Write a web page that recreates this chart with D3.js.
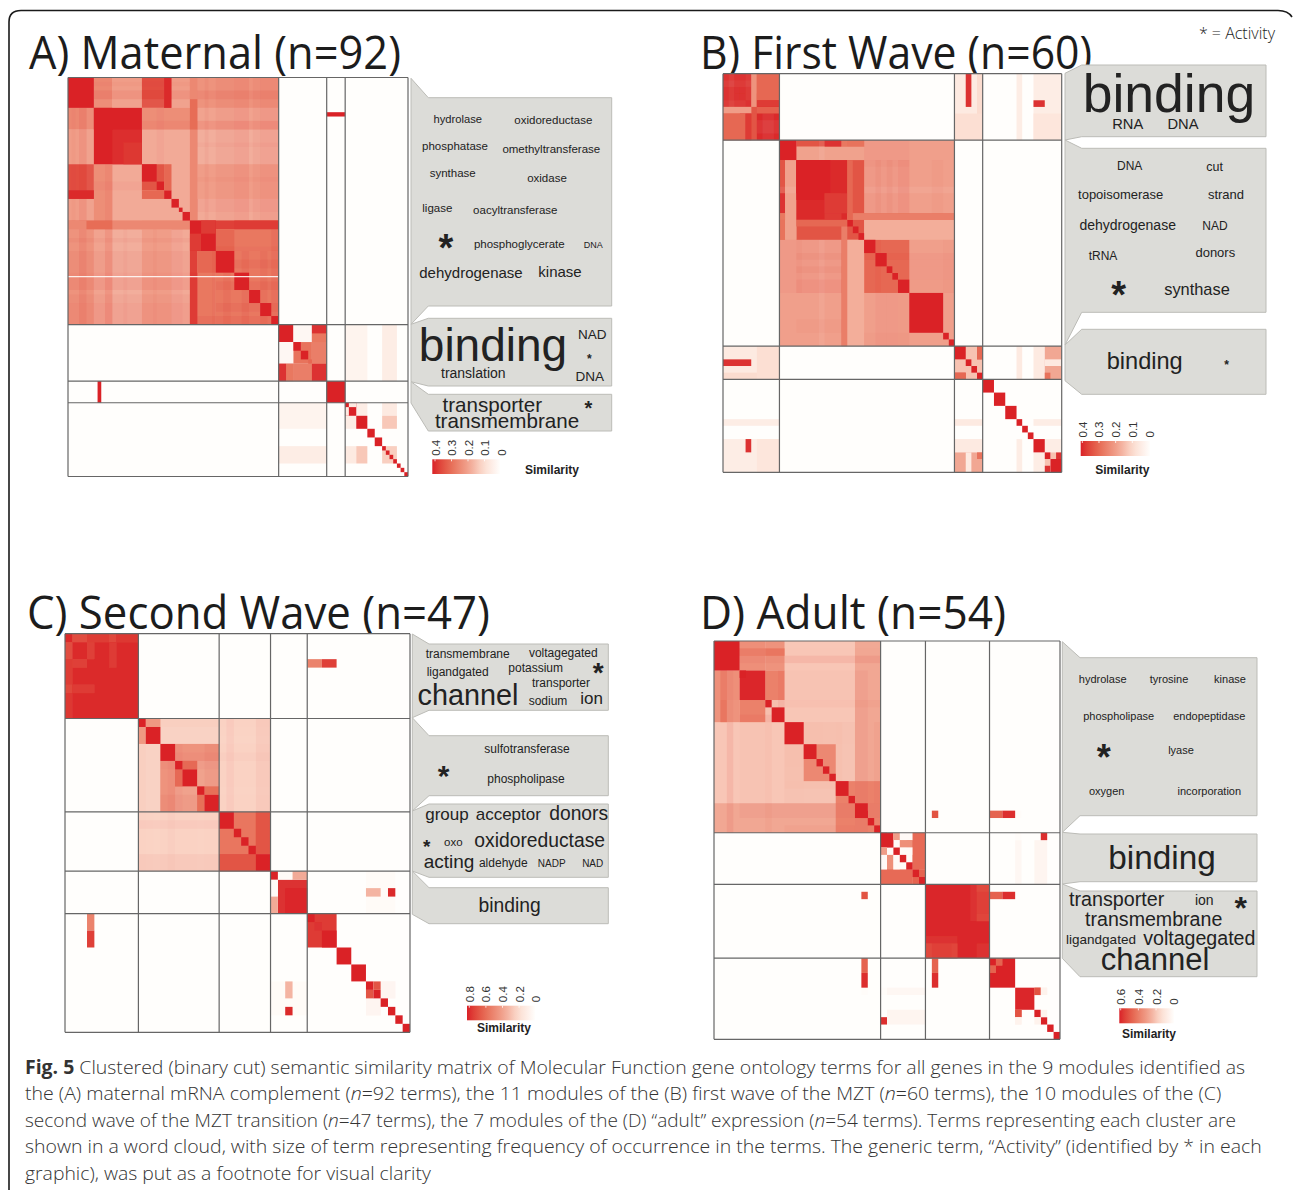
<!DOCTYPE html>
<html><head><meta charset="utf-8">
<script src="https://cdn.jsdelivr.net/npm/d3@7"></script>
<style>
html,body{margin:0;padding:0;background:#fff}
svg{display:block}
.w{font-family:"Liberation Sans",Arial,sans-serif;fill:#222;text-anchor:middle}
.t{font-family:"Open Sans",sans-serif;fill:#1c1c1c}
.c{font-family:"Open Sans",sans-serif;fill:#333;font-size:19px;font-weight:300}
</style></head><body>
<svg id="fig" width="1293" height="1190"></svg>
<script>
// ---------- similarity blocks in term-index units: [col0,col1,row0,row1,similarity,(1 = no mirror)] ----------
const aBreaks=[57,70,75], aMax=.4, aTicks=[.4,.3,.2,.1,0];
const aBase=[[0,57,0,57,.175],[7,12,0,7,.24],[12,20,0,7,.2],[20,28,0,7,.34],[28,33,0,7,.2],[33,35,0,7,.3],[35,57,0,7,.22],
[20,33,7,12,.23],[33,35,7,12,.33],[35,57,7,12,.2],[33,35,12,20,.24],[33,35,20,33,.26],[35,57,20,28,.2],
[0,33,33,35,.24],[5,12,33,35,.29],[33,57,33,35,.33],[33,35,35,57,.36],[35,40,35,57,.27],[40,57,40,57,.27],
[35,40,40,45,.3],[45,57,33,35,.37],
[57,61,57,61,.4],[61,66,57,61,.02],[66,70,57,61,.38],[61,66,61,66,.28],[66,70,61,66,.26],[57,59,66,70,.38],[59,61,66,70,.27],[61,66,66,70,.26],[66,70,66,70,.38],
[75,81,57,70,.03],[85,89,57,70,.05],[78,81,75,78,.05],[85,89,75,78,.06],[85,89,78,81,.13],[85,89,85,89,.12]];
const aShade=[[0,33,40,45,.02],[0,33,45,49,.035],[0,33,50,52,.02],[0,33,52,57,.035],[0,33,37,38,.02],[3,5,7,33,.03],[5,7,7,33,-.02],[10,12,20,33,.025],[10,12,35,57,.025],
[3,5,35,57,.035],[7,10,35,57,-.025],[12,20,35,57,-.02],[24,26,7,20,.015],[28,31,35,57,.015],[42,44,45,57,.03],[47,49,40,57,.035],[52,54,40,57,.03],[55,57,35,57,.035],[39,40,35,57,.02],[1,2,7,33,.012],[15,16,35,57,.012],[23,24,35,57,.012]];
const aPeak=[[0,7,0,7,.4],[7,20,7,20,.4],[12,20,12,20,.385],[15,20,15,20,.375],[7,12,7,12,.4],[20,26,20,26,.33],[20,24,20,24,.4],[24,26,24,26,.4],[26,28,26,28,.4],[20,26,26,28,.3],[0,7,26,28,.39],
[28,30,28,30,.4],[30,31,30,31,.4],[31,33,31,33,.4],[33,40,33,40,.4],[36,40,33,36,.37],[40,45,40,45,.4],[45,49,45,49,.4],[49,52,49,52,.4],[52,55,52,55,.4],[55,57,55,57,.4],
[0,57,45.8,46.05,0,1],
[61,63,61,63,.4],[63,65,63,65,.4],[65,66,65,66,.3],
[70,75,70,75,.4],[70,75,8,9,.4],
[75,78,75,78,.4],[76,78,75,76,.06],[78,81,78,81,.4],[81,83,81,83,.4],[83,85,83,85,.4],[85,86,85,86,.4],[86,87,86,87,.4],[87,88,87,88,.4],[88,89,88,89,.4],[89,90,89,90,.4],[90,91,90,91,.4],[91,92,91,92,.4]];

const bBreaks=[10,41,46], bMax=.4, bTicks=[.4,.3,.2,.1,0];
const bBase=[[0,10,0,10,.33],[0,5,0,5,.38],[5,6,0,5,.22],[5,6,6,10,.33],[0,5,5,6,.2,1],[6,10,5,6,.31,1],[6,10,6,10,.39],[6,10,0,3,.28],[6,10,3,5,.37],[0,4,6,10,.3],[4,5,6,10,.37],
[10,41,10,41,.195],[13,25,13,25,.33],[25,33,25,33,.3],[13,21,10,11,.33],[21,25,10,11,.27],[13,21,11,13,.2],[18,21,10,11,.38],[21,22,10,41,.27],
[22,25,25,41,.17],[10,11,22,25,.28],[11,13,13,25,.19],[22,41,21,22,.26],
[41,46,0,10,.06],[43,44,0,5,.38],[45,46,0,10,.1],[41,46,6,10,.09],[52,53,0,10,.05],[55,60,0,10,.05],[55,60,6,10,.07],[55,57,4,5,.38],
[41,46,41,46,.14],[45,46,41,43,.33],[41,43,45,46,.3],
[52,53,41,46,.06],[55,57,41,46,.06],[57,60,41,46,.18],[57,60,43,44,.06],[57,58,45,46,.28],
[55,60,52,53,.05],[57,60,55,57,.05],[57,58,58,59,.14]];
const bShade=[[17,18,10,13,-.03],[17,18,25,41,-.025],[27,28,25,41,.015],[29,31,33,41,.015],[31,33,33,41,.012],[13,21,27,28,.02],[13,21,29,30,.02],[13,21,31,33,.025],[13,21,37,39,.012],[28,29,33,41,.015],[25,33,10,21,.015],[39,41,25,33,.01],[25,33,13,14,.012],[1,2,0,5,-.02],[2,4,1,3,.015],[7,9,6,10,-.02],[4,5,0,4,-.015]];
const bPeak=[[10,13,10,13,.4],[13,22,13,22,.39],[13,19,13,18,.4],[18,21,18,22,.37],[22,23,22,23,.4],[23,24,23,24,.4],[24,25,24,25,.4],[22,23,13,22,.3],
[25,27,25,27,.4],[27,29,27,29,.4],[29,30,29,30,.4],[30,31,30,31,.4],[31,33,31,33,.4],[33,39,33,39,.4],[39,40,39,40,.4],[40,41,40,41,.4],
[41,43,41,43,.4],[43,44,43,44,.4],[44,45,44,45,.4],[45,46,45,46,.4],
[46,48,46,48,.4],[48,50,48,50,.4],[50,52,50,52,.4],[52,53,52,53,.4],[53,54,53,54,.4],[54,55,54,55,.4],[55,57,55,57,.4],[57,58,57,58,.4],[58,60,58,60,.4],[59,60,57,58,.38]];

const cBreaks=[10,21,28,33], cMax=.8, cTicks=[.8,.6,.4,.2,0];
const cBase=[[0,10,0,10,.78],[1,7,0,1,.69],[7,10,0,1,.71],[0,1,1,3,.68],[3,4,1,3,.71],[6,7,1,4,.73],[0,3,3,4,.72],[1,4,6,7,.74],[0,1,3,6,.73],[0,1,7,10,.75],
[10,21,10,21,.24],[13,21,13,21,.38],[15,21,13,15,.44],[11,13,10,11,.42],[21,28,10,21,.23],[21,28,21,28,.55],[26,28,21,26,.62],[21,26,26,28,.66],
[16,18,15,16,.58],[18,19,19,21,.56],[15,16,16,18,.58],
[29,33,29,33,.76],[29,31,28,29,.02],[31,33,28,29,.35],[41,45,28,33,.02],[41,43,30,31,.32],[44,45,30,31,.78],[43,45,41,43,.05],[41,43,43,45,.05],[33,35,3,4,.5],[35,37,3,4,.72]];
const cShade=[[22,23,10,21,.03],[26,28,10,21,.04],[21,28,12,13,-.02],[21,28,18,19,-.02],[11,13,13,21,-.06],[14,16,13,21,.03],[19,21,13,21,.04],[21,28,14,15,.015],[11,13,21,28,-.02]];
const cPeak=[[10,11,10,11,.8],[11,13,11,13,.8],[13,15,13,15,.8],[15,16,15,16,.8],[16,18,16,18,.8],[18,19,18,19,.8],[19,21,19,21,.8],
[21,23,21,23,.8],[23,24,23,24,.8],[24,25,24,25,.8],[25,26,25,26,.8],[26,28,26,28,.8],[28,29,28,29,.8],[30,33,30,33,.79],
[33,37,33,37,.74],[33,34,33,34,.8],[34,35,34,35,.76],[35,37,35,37,.8],[37,39,37,39,.8],[39,41,39,41,.8],[41,42,41,42,.8],[42,43,42,43,.8],[42,43,41,42,.66],[43,44,43,44,.8],[44,45,44,45,.8],[45,46,45,46,.8],[46,47,46,47,.8]];

const dBreaks=[26,33,43], dMax=.6, dTicks=[.6,.4,.2,0];
const dBase=[[0,26,0,26,.215],[11,26,0,11,.2],[4,8,0,4,.34],[8,11,0,4,.33],[8,11,4,8,.38],[22,26,0,22,.27],[14,19,14,19,.36],[19,26,19,26,.38],[4,8,1,2,.38],[8,11,1,2,.4],
[26,28,26,28,.6],[28,29,26,27,.3],[29,31,26,27,.02],[31,33,26,27,.42],[28,29,27,28,.02],[29,30,27,28,.3],[30,33,27,28,.44],[26,27,28,29,.3],[27,28,28,29,.02],[29,31,28,29,.02],[31,33,28,29,.3],
[26,27,29,31,.02],[27,28,29,31,.34],[28,29,29,31,.02],[30,31,29,30,.02],[31,33,29,31,.44],[26,31,31,33,.44],[31,33,31,33,.46],
[33,43,33,43,.595],[40,43,33,38,.57],[41,43,37,38,.53],[33,37,41,43,.54],[33,34,41,43,.52],[41,43,41,43,.57],
[47,48,27,33,.03],[50,52,27,33,.04],[47,48,26,27,.01],
[44,48,23,24,.01]];
const dShade=[[2,3,4,26,.03],[1,2,4,11,.02],[0,1,11,26,-.015],[8,9,11,26,.02],[10,11,4,11,.04],[22,24,4,26,.025],[11,26,2,3,.02],[4,8,11,22,.012],[14,19,19,22,-.015],[17,19,11,14,-.015],[20,22,11,19,-.03],[25,26,11,22,.02]];
const dPeak=[[0,4,0,4,.6],[4,8,4,8,.59],[4,5,4,5,.6],[8,9,8,9,.6],[9,11,9,11,.6],[11,14,11,14,.6],[14,16,14,16,.6],[16,17,16,17,.6],[17,18,17,18,.6],[18,19,18,19,.6],
[19,21,19,21,.6],[21,22,21,22,.6],[22,24,22,24,.6],[24,25,24,25,.6],[25,26,25,26,.6],[23,24,23,24,.6],
[34,35,23,24,.5],[43,45,23,24,.46],[45,47,23,24,.58],[34,35,43,45,.46],[34,35,45,47,.58],[51,52,26,27,.58],
[26,27,26,27,.6],[27,28,27,28,.6],[28,29,28,29,.6],[29,30,29,30,.6],[30,31,30,31,.6],[31,32,31,32,.6],[32,33,32,33,.6],
[43,47,43,47,.6],[44,45,43,44,.46],[43,44,44,45,.46],[47,50,47,50,.59],[50,51,47,48,.5],[51,52,47,48,.05],[47,48,50,51,.5],[47,48,51,52,.05],[50,51,50,51,.6],[51,52,51,52,.6],[51,52,50,51,.05],[52,53,52,53,.6],[53,54,53,54,.6]];

// ---------- word cloud content ----------
const aWords=["hydrolase","oxidoreductase","phosphatase","omethyltransferase","synthase","oxidase","ligase","oacyltransferase","*","phosphoglycerate","DNA","dehydrogenase","kinase","binding","NAD","*","translation","DNA","transporter","transmembrane","*"];
const bWords=["binding","RNA","DNA","DNA","cut","topoisomerase","strand","dehydrogenase","NAD","tRNA","donors","*","synthase","binding","*"];
const cWords=["transmembrane","voltagegated","ligandgated","potassium","*","channel","transporter","sodium","ion","sulfotransferase","phospholipase","*","group","acceptor","donors","*","oxo","oxidoreductase","acting","aldehyde","NADP","NAD","binding"];
const dWords=["hydrolase","tyrosine","kinase","phospholipase","endopeptidase","*","lyase","oxygen","incorporation","binding","transporter","ion","*","transmembrane","ligandgated","voltagegated","channel"];
const titles=["A) Maternal (n=92)","B) First Wave (n=60)","C) Second Wave (n=47)","D) Adult (n=54)"];
const termCounts=[92,60,47,54];

// ---------- layout (pixels) ----------
const aWordPos=[[457.7,122.7,11.2],[553.3,124,11.5],[455,150,11.5],[551.3,152.7,11.5],[452.7,177.3,11.5],[547,181.7,11.5],[437.3,212.3,11.5],[515.3,214,11.5],[446,260.5,38],[519.3,248.3,11.5],[593.3,247.7,9],[471,278.3,15],[560,276.7,15],[493,361,46],[592.3,339,13.5],[589.3,363,12],[473.3,378.3,14],[589.7,380.7,13.5],[492.3,411.7,20.6],[507,428.3,20.6],[588.3,414.9,20]];
const bWordPos=[[1169,112,53.5],[1127.7,129,14.7],[1183,129,14.7],[1129.7,170.3,12],[1214.7,170.7,12.5],[1120.7,198.7,13],[1226,198.7,13],[1127.7,229.7,14],[1215,229.7,12],[1103,260,12],[1215.3,257.3,13],[1118.7,308,38],[1197,295,16.4],[1144.7,369.3,23.6],[1226.7,368.6,12]];
const cWordPos=[[467.7,657.7,12],[563.3,656.7,12],[457.7,675.7,12],[535.7,672.3,12],[598.3,682.2,28],[468,704.5,28.8],[561,687,12],[548,705,12],[591.7,704,17],[527,752.7,12],[526,783.3,12],[443.7,785.6,30],[447,820,17],[508.3,820,17],[578.7,820,19.3],[426.7,852.5,19],[453.3,845.7,11.5],[539.7,846.7,19.3],[449,867.7,19],[503.3,867.3,12],[551.7,866.7,10],[592.7,866.7,10],[509.7,911.7,19.3]];
const dWordPos=[[1102.7,683.3,11],[1169,683.3,11],[1230,683.3,11],[1118.7,720,11],[1209.3,720,11],[1103.7,769.6,36],[1181,754.3,11],[1106.7,795,11],[1209.3,795.3,11],[1162,868.7,33.3],[1116.7,906,19.7],[1204.3,905.3,14],[1240.7,919.4,32],[1153.7,926,19.6],[1101,944,13.5],[1199.3,945,19.6],[1155,970.3,31]];
const titlePos=[[29,69,372],[700,69,392],[27,629,463],[700,629,306]];
const frames=[{x:[68,408],y:[77.5,476.5]},{x:[723,1061.7],y:[73.7,472.3]},{x:[65,410],y:[633.7,1032.3]},{x:[714,1060],y:[641,1039.3]}];
const boxes=[
 {xl:411,xm:428.3,xr:611.7,b:[[78.3,97.7,306,324.3],[324.3,318.3,386,381.7],[381.7,394.3,431,403]]},
 {xl:1065,xm:1081.7,xr:1266,b:[[73.3,65,136.7,140],[140,148.3,312.3,345],[345,329.3,394.3,380.7]]},
 {xl:412.3,xm:429,xr:608.3,b:[[634,644,710.3,717.7],[717.7,735.7,795.7,811],[811,804,877.3,871],[871,887.7,923.7,914.3]]},
 {xl:1062.3,xm:1080,xr:1257,b:[[641.7,657.7,815.7,832.3],[832.3,834,881.7,884],[884,891,976.7,958.3]]}];
const legends=[
 {x:[435,501],bar:[432.3,500],y:459.3,h:14.7,lab:[552,474.3]},
 {x:[1082.3,1149],bar:[1080.7,1150],y:441,h:15,lab:[1122.3,474.3]},
 {x:[469.3,535.7],bar:[467,535],y:1005.7,h:14.6,lab:[504,1031.7]},
 {x:[1120.7,1173.7],bar:[1119.3,1174],y:1008.3,h:15,lab:[1149,1038.3]}];
const rampAt=[0,.25,.45,.7,.85,1], rampColors=["#fffefc","#fbdccf","#f1a793","#e8735c","#e14d40","#da2128"];

const panels=[
 {base:aBase,shade:aShade,peak:aPeak,breaks:aBreaks,max:aMax,ticks:aTicks,words:aWords,pos:aWordPos},
 {base:bBase,shade:bShade,peak:bPeak,breaks:bBreaks,max:bMax,ticks:bTicks,words:bWords,pos:bWordPos},
 {base:cBase,shade:cShade,peak:cPeak,breaks:cBreaks,max:cMax,ticks:cTicks,words:cWords,pos:cWordPos},
 {base:dBase,shade:dShade,peak:dPeak,breaks:dBreaks,max:dMax,ticks:dTicks,words:dWords,pos:dWordPos}];

const svg=d3.select("#fig");
const defs=svg.append("defs");
defs.append("filter").attr("id","soft").attr("x","-2%").attr("y","-2%").attr("width","104%").attr("height","104%")
  .append("feGaussianBlur").attr("stdDeviation",.55);

svg.append("path").attr("d","M9,1190 V22 Q9,10.5 21,10.5 H1278 Q1288,10.5 1292,17").attr("fill","none").attr("stroke","#1a1a1a").attr("stroke-width",1.6);

svg.selectAll("text.t").data(titles).join("text").attr("class","t")
  .attr("x",(d,i)=>titlePos[i][0]).attr("y",(d,i)=>titlePos[i][1])
  .attr("textLength",(d,i)=>titlePos[i][2]).attr("lengthAdjust","spacingAndGlyphs")
  .style("font-size","46px").text(d=>d);
svg.append("text").attr("class","t").attr("x",1275).attr("y",38.5).attr("text-anchor","end").style("font-size","16px").style("font-weight",300).text("* = Activity");

panels.forEach((p,i)=>{
  const n=termCounts[i],f=frames[i];
  const x=d3.scaleLinear().domain([0,n]).range(f.x), y=d3.scaleLinear().domain([0,n]).range(f.y);
  const col=d3.scaleLinear().domain(rampAt.map(t=>t*p.max)).range(rampColors).interpolate(d3.interpolateLab).clamp(true);
  const g=svg.append("g");
  const heat=g.append("g").attr("filter","url(#soft)");
  heat.append("rect").attr("x",f.x[0]).attr("y",f.y[0]).attr("width",f.x[1]-f.x[0]).attr("height",f.y[1]-f.y[0]).attr("fill","#fffefc");
  const expand=l=>l.flatMap(d=>{const a=[d];if(!d[5]&&!(d[0]===d[2]&&d[1]===d[3]))a.push([d[2],d[3],d[0],d[1],d[4]]);return a;});
  const layer=(list,fill,op)=>heat.append("g").selectAll("rect").data(expand(list)).join("rect")
    .attr("x",d=>x(d[0])).attr("y",d=>y(d[2])).attr("width",d=>x(d[1])-x(d[0])).attr("height",d=>y(d[3])-y(d[2]))
    .attr("fill",fill).attr("fill-opacity",op);
  layer(p.base,d=>col(d[4]),1);
  layer(p.shade,d=>d[4]>0?"#da2128":"#ffffff",d=>Math.abs(d[4])/p.max);
  layer(p.peak,d=>col(d[4]),1);
  const gridX=[0,...p.breaks,n];
  const grid=g.append("g").attr("stroke","#666").attr("stroke-width",1.2).attr("fill","none");
  grid.selectAll("line.v").data(gridX).join("line").attr("class","v").attr("x1",d=>x(d)).attr("x2",d=>x(d)).attr("y1",f.y[0]).attr("y2",f.y[1]);
  grid.selectAll("line.h").data(gridX).join("line").attr("class","h").attr("y1",d=>y(d)).attr("y2",d=>y(d)).attr("x1",f.x[0]).attr("x2",f.x[1]);
  const b=boxes[i];
  g.append("g").selectAll("path").data(b.b).join("path")
    .attr("d",d=>`M${b.xl},${d[0]} L${b.xm},${d[1]} H${b.xr} V${d[2]} H${b.xm} L${b.xl},${d[3]} Z`)
    .attr("fill","#dcdcd8").attr("stroke","#bcbcb7").attr("stroke-width",1);
  g.append("g").selectAll("text").data(p.words).join("text").attr("class","w")
    .attr("x",(d,k)=>p.pos[k][0]).attr("y",(d,k)=>p.pos[k][1]).style("font-size",(d,k)=>p.pos[k][2]+"px")
    .style("font-weight",d=>d==="*"?"700":"400").text(d=>d);
  const L=legends[i], gid="grad"+i;
  const sx=d3.scaleLinear().domain([p.max,0]).range(L.x);
  const grad=defs.append("linearGradient").attr("id",gid);
  d3.range(0,1.001,.1).forEach(t=>grad.append("stop").attr("offset",t).attr("stop-color",col(p.max*(1-t))));
  const lg=g.append("g");
  lg.append("rect").attr("x",L.bar[0]).attr("y",L.y).attr("width",L.bar[1]-L.bar[0]).attr("height",L.h).attr("fill",`url(#${gid})`);
  const ax=lg.append("g").attr("transform",`translate(0,${L.y})`).call(d3.axisTop(sx).tickValues(p.ticks).tickFormat(d=>d===0?"0":String(d)).tickSize(0));
  ax.select(".domain").remove();
  ax.selectAll("text").attr("x",null).attr("dy",null).attr("y",null)
    .style("font-family",'"Liberation Sans",sans-serif').style("font-size","11.5px").attr("fill","#333")
    .attr("text-anchor","start").attr("transform","translate(4,-3.5) rotate(-90)");
  lg.selectAll("line.tk").data(p.ticks.filter(d=>d!==0)).join("line").attr("class","tk")
    .attr("x1",d=>sx(d)).attr("x2",d=>sx(d)).attr("y1",L.y).attr("y2",L.y+2).attr("stroke","#fff").attr("stroke-width",.8);
  lg.append("text").attr("class","w").attr("x",L.lab[0]).attr("y",L.lab[1]).style("font-size","12px").style("font-weight",700).text("Similarity");
});

// caption: each line is fitted to its measured width with a horizontal scale
const capY=[1073.5,1100,1126.5,1153,1179.5], capLen=[1221,1197,1211,1238,406];
const cap=[
 [["Fig. 5","b"],[" Clustered (binary cut) semantic similarity matrix of Molecular Function gene ontology terms for all genes in the 9 modules identified as",""]],
 [["the (A) maternal mRNA complement (",""],["n","i"],["=92 terms), the 11 modules of the (B) first wave of the MZT (",""],["n","i"],["=60 terms), the 10 modules of the (C)",""]],
 [["second wave of the MZT transition (",""],["n","i"],["=47 terms), the 7 modules of the (D) “adult” expression (",""],["n","i"],["=54 terms). Terms representing each cluster are",""]],
 [["shown in a word cloud, with size of term representing frequency of occurrence in the terms. The generic term, “Activity” (identified by * in each",""]],
 [["graphic), was put as a footnote for visual clarity",""]]];
svg.selectAll("text.c").data(cap).join("text").attr("class","c")
  .each(function(d,i){
    const t=d3.select(this);
    t.selectAll("tspan").data(d).join("tspan")
      .style("font-weight",s=>s[1]==="b"?"700":"300").style("font-style",s=>s[1]==="i"?"italic":"normal").text(s=>s[0]);
    const w=this.getComputedTextLength();
    t.attr("transform",`translate(25,${capY[i]}) scale(${capLen[i]/w},1)`);
  });
</script></body></html>
